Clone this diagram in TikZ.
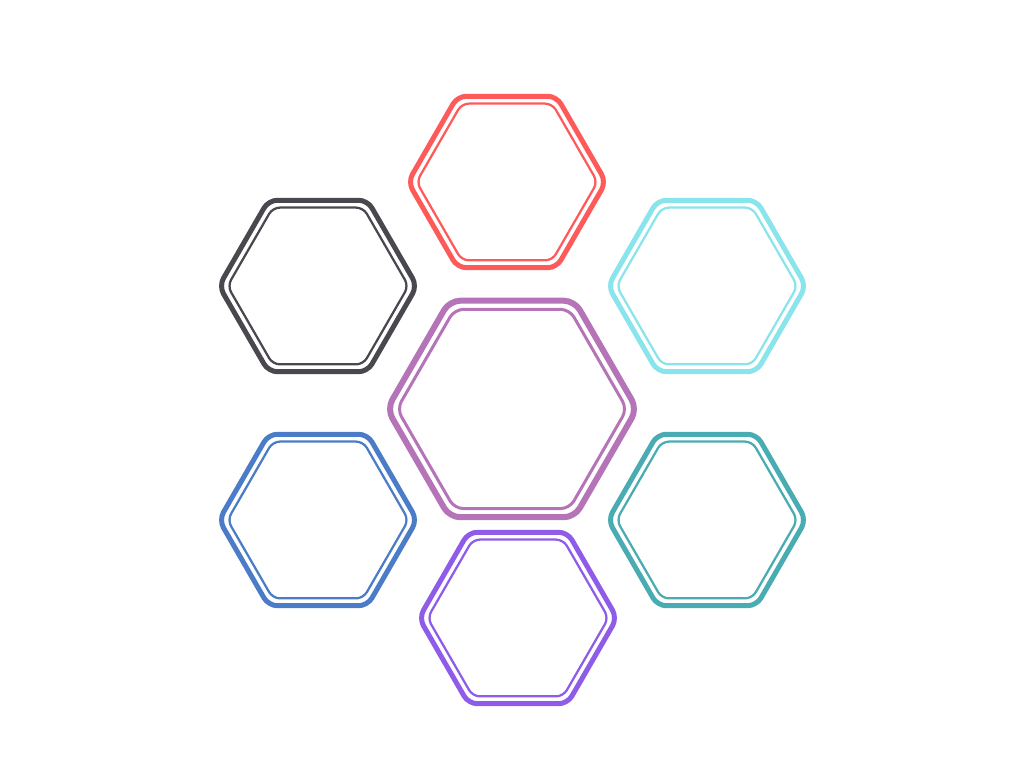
\documentclass[tikz,border=0pt]{standalone}
\usepackage{xcolor}
\usepackage{tikz}
\usetikzlibrary{shapes.geometric, positioning}
\definecolor{myred}{RGB}{255,90,90}
\definecolor{mycyan}{RGB}{138,228,236}
\definecolor{mydark}{RGB}{74,72,78}
\definecolor{mypurple}{RGB}{181,116,184}
\definecolor{myblue}{RGB}{74,124,200}
\definecolor{myteal}{RGB}{72,172,178}
\definecolor{myviolet}{RGB}{142,92,232}
\tikzset{
  hexouter/.style={regular polygon, regular polygon sides=6,
    minimum size=3.96cm, inner sep=0pt, line width=0.1cm,
    rounded corners=5pt},
  hexinner/.style={regular polygon, regular polygon sides=6,
    minimum size=3.62cm, inner sep=0pt, line width=0.045cm,
    rounded corners=4pt},
  bighexouter/.style={hexouter, minimum size=5.0cm, line width=0.12cm,
    rounded corners=6pt},
  bighexinner/.style={hexinner, minimum size=4.6cm, line width=0.06cm,
    rounded corners=5pt}
}

\begin{document}
\begin{tikzpicture}
  \useasboundingbox (0,0) rectangle (20.48,15.36);

  % Centre hexagon
  \node[bighexouter, draw=mypurple] (centre) at (10.24, 7.18) {};
  \node[bighexinner, draw=mypurple] (centrein) at (centre.center) {};

  % Ring of hexagons
  \node[hexouter, draw=myred] (top) at (10.14, 11.72) {};
  \node[hexinner, draw=myred] (topin) at (top.center) {};

  \node[hexouter, draw=mydark] (upleft) at (6.36, 9.64) {};
  \node[hexinner, draw=mydark] (upleftin) at (upleft.center) {};

  \node[hexouter, draw=mycyan] (upright) at (14.14, 9.64) {};
  \node[hexinner, draw=mycyan] (uprightin) at (upright.center) {};

  \node[hexouter, draw=myblue] (lowleft) at (6.36, 4.96) {};
  \node[hexinner, draw=myblue] (lowleftin) at (lowleft.center) {};

  \node[hexouter, draw=myteal] (lowright) at (14.14, 4.96) {};
  \node[hexinner, draw=myteal] (lowrightin) at (lowright.center) {};

  \node[hexouter, draw=myviolet] (bottom) at (10.36, 3.00) {};
  \node[hexinner, draw=myviolet] (bottomin) at (bottom.center) {};
\end{tikzpicture}
\end{document}
